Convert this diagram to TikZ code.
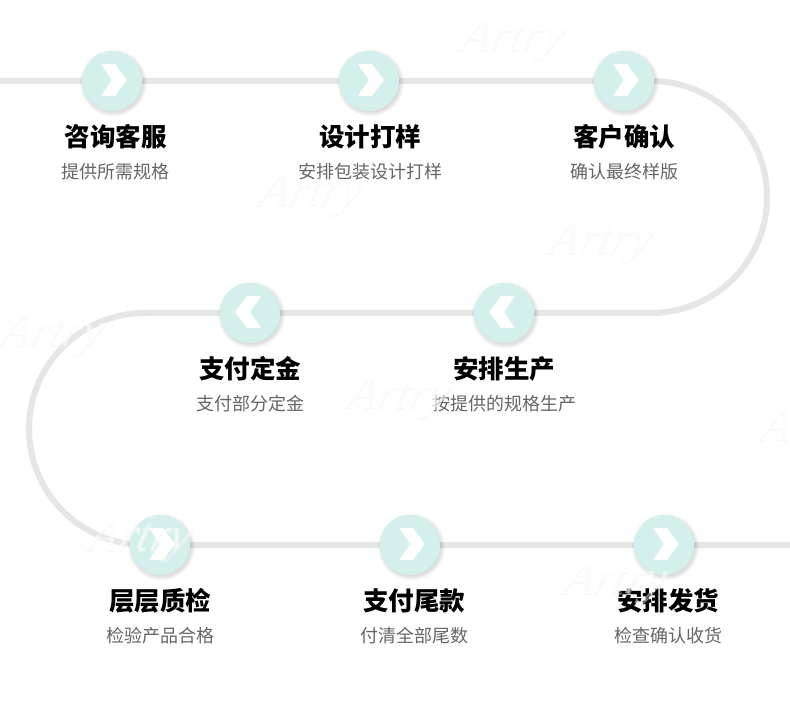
\documentclass[tikz,border=0pt]{standalone}
\usepackage{fontspec}
\setmainfont{Noto Sans CJK SC}
\newfontfamily\wmfont[Scale=1]{Liberation Serif}
\usetikzlibrary{backgrounds}
\definecolor{trackgray}{HTML}{E6E6E6}
\definecolor{discteal}{HTML}{D3F0ED}
\definecolor{subgray}{HTML}{666666}
\definecolor{wmgray}{HTML}{F5F5F5}
\tikzset{
  track/.style={draw=trackgray,line width=6pt},
  disc/.style={circle,fill=discteal,minimum size=60pt,inner sep=0pt},
  chev/.style={fill=white,draw=none},
  steptitle/.style={font=\fontsize{25.5}{25.5}\selectfont\bfseries,text=black,inner sep=0pt,anchor=center},
  stepsub/.style={font=\fontsize{18}{18}\selectfont,text=subgray,inner sep=0pt,anchor=center},
  wm/.style={font=\wmfont\itshape\fontsize{48}{48}\selectfont,inner sep=0pt,xslant=0.25,opacity=.5}
}
\newcommand{\stepitem}[6]{% name, x, y, title, sub, dir
  \foreach \rr in {33.5,32.5,31.5,30.5,29.5}{\fill[black,opacity=.028] (#2+1.5,#3+2) circle[radius=\rr];}
  \node[disc] (#1) at (#2,#3) {};
  \node[steptitle] (#1t) at (#2+#6,#3+55.5) {#4};
  \node[stepsub] (#1s) at (#2+#6,#3+91) {#5};
}
\newcommand{\wmark}[3]{%
  \node[wm,text=wmgray] (#1a) at (#2+1,#3+1.5) {Artry};
  \node[wm,text=white] (#1) at (#2,#3) {Artry};
}
\begin{document}
\begin{tikzpicture}[x=1pt,y=-1pt]
\useasboundingbox (0,0) rectangle (790,703);
\clip (0,0) rectangle (790,703);
\coordinate (startp) at (0,81);
\coordinate (endp) at (790,545);
\coordinate (bend1) at (651,81);
\coordinate (bend2) at (145,313);
\stepitem{s1}{112}{81}{咨询客服}{提供所需规格}{3.5}
\stepitem{s2}{369}{81}{设计打样}{安排包装设计打样}{1}
\stepitem{s3}{624}{81}{客户确认}{确认最终样版}{0}
\stepitem{s4}{504}{313}{安排生产}{按提供的规格生产}{0}
\stepitem{s5}{250}{313}{支付定金}{支付部分定金}{0}
\stepitem{s6}{160}{545}{层层质检}{检验产品合格}{0}
\stepitem{s7}{410}{545}{支付尾款}{付清全部尾数}{4}
\stepitem{s8}{664}{545}{安排发货}{检查确认收货}{4}
\begin{scope}[on background layer]
\fill[white] (0,0) rectangle (790,703);
\draw[track] (startp) -- (s1.center) -- (s2.center) -- (s3.center) -- (bend1) arc[start angle=-90,delta angle=180,radius=116] -- (s4.center) -- (s5.center) -- (bend2) arc[start angle=-90,delta angle=-180,radius=116] -- (s6.center) -- (s7.center) -- (s8.center) -- (endp);
\end{scope}
\foreach \cx/\cy in {112/81,369/81,624/81,410/545,664/545,160/545}{
  \fill[chev,shift={(\cx,\cy)}] (-11,-17) -- (3,-17) -- (15,-1) -- (3,15) -- (-11,15) -- (0,-1) -- cycle;
}
\foreach \cx/\cy in {250/313,504/313}{
  \fill[chev,shift={(\cx,\cy)}] (11,-17) -- (-3,-17) -- (-15,-1) -- (-3,15) -- (11,15) -- (0,-1) -- cycle;
}
\wmark{w1}{512}{40}
\wmark{w2}{310}{195}
\wmark{w3}{600}{243}
\wmark{w4}{52}{335}
\wmark{w5}{398}{398}
\wmark{w6}{812}{430}
\wmark{w7}{140}{540}
\wmark{w8}{615}{583}
\end{tikzpicture}
\end{document}
